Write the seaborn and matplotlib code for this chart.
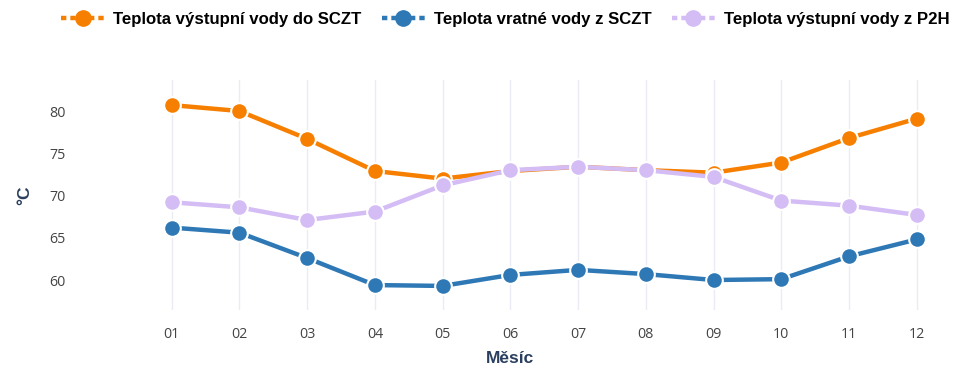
import matplotlib
matplotlib.use("Agg")
import matplotlib.pyplot as plt
import seaborn as sns
import pandas as pd
from matplotlib.lines import Line2D

months = ["01", "02", "03", "04", "05", "06", "07", "08", "09", "10", "11", "12"]
out_sczt = [80.7, 80.0, 76.7, 72.9, 72.0, 72.9, 73.4, 73.0, 72.7, 73.9, 76.8, 79.1]
ret_sczt = [66.2, 65.6, 62.6, 59.4, 59.3, 60.6, 61.2, 60.7, 60.0, 60.1, 62.8, 64.8]
out_p2h = [69.2, 68.6, 67.1, 68.1, 71.2, 73.0, 73.4, 73.0, 72.2, 69.4, 68.8, 67.7]
series_names = ["Teplota výstupní vody do SCZT", "Teplota vratné vody z SCZT", "Teplota výstupní vody z P2H"]
colors = ["#F77F00", "#2E78B5", "#D4BCF5"]

rows = []
for name, vals in zip(series_names, [out_sczt, ret_sczt, out_p2h]):
    for i, (m, v) in enumerate(zip(months, vals)):
        rows.append({"idx": i, "Měsíc": m, "val": v, "series": name})
df = pd.DataFrame(rows)

sns.set_theme(style="white")
plt.rcParams["font.family"] = ["Open Sans", "DejaVu Sans"]

fig = plt.figure(figsize=(9.55, 3.77), dpi=100)
ax = fig.add_axes([85 / 955, 1 - 310 / 377, (935 - 85) / 955, (310 - 80) / 377])

sns.lineplot(data=df, x="idx", y="val", hue="series", palette=colors, hue_order=series_names,
             marker="o", markersize=12, markeredgecolor="white", markeredgewidth=1.5,
             linewidth=3.2, ax=ax, legend=False)

ax.set_xlim(-1.28, 11.27)
ax.set_ylim(56.45, 83.67)
ax.set_xticks(range(12))
ax.set_xticklabels(months)
ax.set_yticks([60, 65, 70, 75, 80])
ax.grid(axis="x", color="#EBEBF5", linewidth=1)
ax.grid(axis="y", visible=False)
for s in ax.spines.values():
    s.set_visible(False)
ax.tick_params(axis="both", length=0, labelsize=10.3, colors="#444444")
ax.tick_params(axis="y", pad=14)
ax.tick_params(axis="x", pad=12)
ax.set_xlabel("Měsíc", fontsize=12.5, fontweight="bold", color="#2A3F5F",
              family=["Liberation Sans", "DejaVu Sans"], labelpad=7)
ax.set_ylabel("°C", fontsize=12.5, fontweight="bold", color="#2A3F5F",
              family=["Liberation Sans", "DejaVu Sans"], labelpad=12)
ax.set_axisbelow(True)

handles = [Line2D([0], [0], color=c, linewidth=3.2, linestyle=(0, (1.2, 0.9)), marker="o",
                  markersize=11, markeredgecolor=c) for c in colors]
leg = fig.legend(handles, series_names, loc="upper center", bbox_to_anchor=(0.529, 1.008), ncol=3,
                 frameon=False, handlelength=2.6, columnspacing=1.2, handletextpad=0.5,
                 prop={"family": ["Liberation Sans", "DejaVu Sans"], "weight": "bold", "size": 12.1})
for t in leg.get_texts():
    t.set_color("black")

fig.savefig("out.png", dpi=100)
